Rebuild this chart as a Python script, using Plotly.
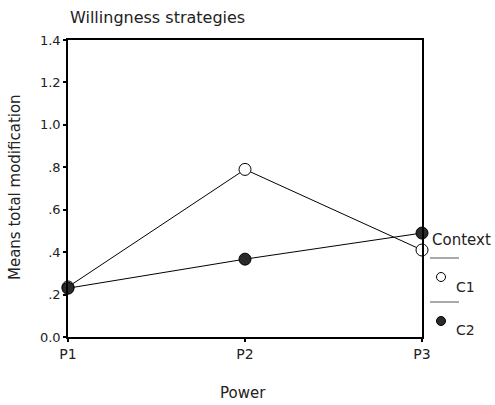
import plotly.graph_objects as go

power_levels = ["P1", "P2", "P3"]
c1_means = [0.236, 0.79, 0.41]
c2_means = [0.230, 0.367, 0.49]
y_tick_vals = [0.0, 0.2, 0.4, 0.6, 0.8, 1.0, 1.2, 1.4]
y_tick_text = ["0.0", ".2", ".4", ".6", ".8", "1.0", "1.2", "1.4"]
legend_title = "Context"
legend_labels = ["C1", "C2"]

FONT = "DejaVu Sans"
W, H = 495, 405
L, R, T, B = 68, 73, 40, 68
pw, ph = W - L - R, H - T - B


def px(x):
    return (x - L) / pw


def py(y):
    return (H - B - y) / ph


fig = go.Figure()
fig.add_trace(go.Scatter(
    x=power_levels, y=c1_means, mode="lines+markers", name=legend_labels[0],
    line=dict(color="black", width=1),
    marker=dict(symbol="circle", size=12, color="white", line=dict(color="black", width=1)),
    cliponaxis=False, showlegend=False))
fig.add_trace(go.Scatter(
    x=power_levels, y=c2_means, mode="lines+markers", name=legend_labels[1],
    line=dict(color="black", width=1),
    marker=dict(symbol="circle", size=12, color="#2a2a2a", line=dict(color="black", width=1)),
    cliponaxis=False, showlegend=False))

fig.update_layout(
    width=W, height=H, autosize=False,
    margin=dict(l=L, r=R, t=T, b=B, pad=0),
    paper_bgcolor="white", plot_bgcolor="white",
    font=dict(family=FONT, color="#222", size=13),
    showlegend=False,
)
fig.update_xaxes(
    type="category", range=[0, 2], showgrid=False, zeroline=False,
    showline=True, linecolor="black", linewidth=1.5, mirror=True,
    ticks="outside", ticklen=3, tickwidth=2, tickcolor="black",
    tickfont=dict(family=FONT, size=14, color="#222"),
)
fig.update_yaxes(
    range=[0, 1.4], tickvals=y_tick_vals, ticktext=y_tick_text,
    showgrid=False, zeroline=False,
    showline=True, linecolor="black", linewidth=1.5, mirror=True,
    ticks="outside", ticklen=3, tickwidth=2, tickcolor="black",
    tickfont=dict(family=FONT, size=13, color="#222"),
)

ann = []
# chart title
ann.append(dict(text="Willingness strategies", xref="paper", yref="paper",
                x=px(68), y=py(17), xanchor="left", yanchor="middle",
                showarrow=False, font=dict(family=FONT, size=16, color="#222")))
# axis titles
ann.append(dict(text="Power", xref="paper", yref="paper",
                x=px(243), y=py(393), xanchor="center", yanchor="middle",
                showarrow=False, font=dict(family=FONT, size=15, color="#222")))
ann.append(dict(text="Means total modification", xref="paper", yref="paper",
                x=px(15), y=py(187), xanchor="center", yanchor="middle", textangle=-90,
                showarrow=False, font=dict(family=FONT, size=15, color="#222")))
# legend
ann.append(dict(text=legend_title, xref="paper", yref="paper",
                x=px(430), y=py(240), xanchor="left", yanchor="middle",
                showarrow=False, font=dict(family=FONT, size=15, color="#222")))
ann.append(dict(text=legend_labels[0], xref="paper", yref="paper",
                x=px(454), y=py(287), xanchor="left", yanchor="middle",
                showarrow=False, font=dict(family=FONT, size=14, color="#222")))
ann.append(dict(text=legend_labels[1], xref="paper", yref="paper",
                x=px(454), y=py(330), xanchor="left", yanchor="middle",
                showarrow=False, font=dict(family=FONT, size=14, color="#222")))

shapes = []
for sy in (258, 302):
    shapes.append(dict(type="line", xref="paper", yref="paper",
                       x0=px(430), x1=px(459), y0=py(sy), y1=py(sy),
                       line=dict(color="#555", width=1)))
for cy, fill in ((277, "white"), (321, "#2a2a2a")):
    shapes.append(dict(type="circle", xref="paper", yref="paper",
                       xsizemode="pixel", ysizemode="pixel",
                       xanchor=px(441), yanchor=py(cy),
                       x0=-4.5, x1=4.5, y0=-4.5, y1=4.5,
                       fillcolor=fill, line=dict(color="black", width=1)))

fig.update_layout(annotations=ann, shapes=shapes)
fig.write_html("out.html")
